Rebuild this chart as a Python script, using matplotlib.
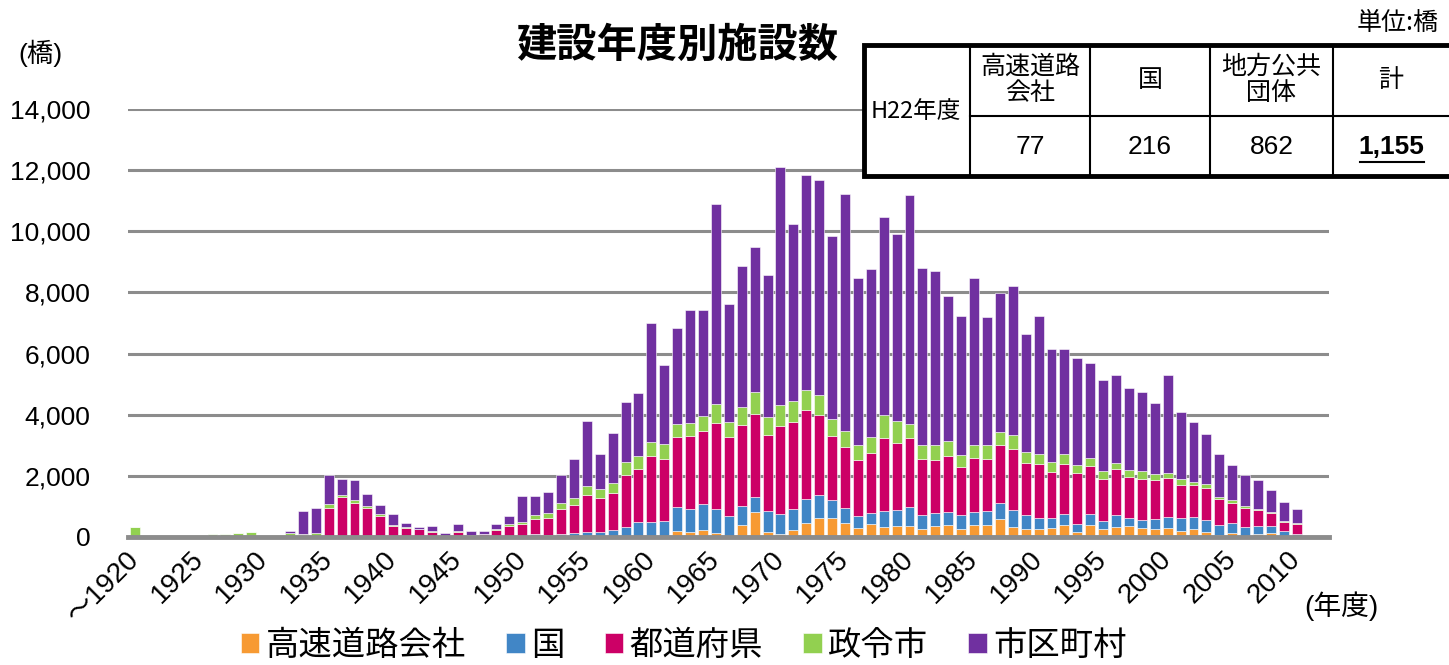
import numpy as np
import matplotlib.pyplot as plt
from matplotlib.patches import Rectangle

plt.rcParams['font.family'] = ['Liberation Sans', 'Noto Sans CJK JP']

# construction year (first bar = up to 1920)
years = list(range(1920, 2011))

# bridges by owner, per year
expressway = [0] * 40 + [
    0, 0, 195, 175, 230, 120, 0, 390, 815, 175,
    85, 220, 445, 630, 620, 470, 285, 415, 325, 360,
    360, 270, 370, 390, 270, 390, 390, 580, 340, 260,
    270, 285, 390, 165, 390, 260, 340, 360, 295, 250,
    285, 185, 260, 175, 55, 140, 20, 85, 120, 20,
    0]
national = [0] * 10 + [0, 0, 0, 30, 0, 0, 0, 0, 0, 0] + [0] * 10 + [
    30, 85, 65, 110, 120, 150, 175, 230, 340, 490,
    490, 525, 785, 730, 840, 785, 685, 620, 500, 675,
    665, 685, 795, 740, 590, 470, 390, 360, 520, 535,
    610, 445, 415, 425, 455, 425, 445, 520, 545, 455,
    350, 340, 350, 270, 350, 260, 370, 260, 260, 325,
    380, 425, 380, 370, 340, 325, 305, 260, 240, 165,
    85]
prefecture = [0] * 10 + [
    0, 0, 20, 20, 20, 960, 1310, 1110, 940, 690,
    350, 300, 250, 175, 20, 160, 80, 90, 220, 370,
    390, 510, 555, 805, 935, 1230, 1090, 1210, 1690, 1740,
    2155, 2035, 2300, 2385, 2395, 2830, 2590, 2645, 2720, 2495,
    2875, 2865, 2910, 2635, 2090, 2015, 1850, 1970, 2395, 2180,
    2255, 1850, 1740, 1820, 1580, 1765, 1700, 1905, 2005, 1700,
    1755, 1515, 1655, 1645, 1580, 1385, 1505, 1350, 1350, 1305,
    1250, 1100, 1055, 1055, 840, 655, 610, 525, 415, 305,
    340]
designated_city = [
    320, 0, 0, 0, 40, 50, 100, 100, 130, 150,
    40, 60, 120, 50, 100, 110, 50, 110, 75, 55,
    30, 40, 0, 30, 0, 30, 0, 0, 30, 50,
    85, 120, 150, 195, 205, 295, 305, 325, 425, 415,
    470, 470, 415, 435, 490, 620, 490, 590, 695, 590,
    685, 675, 655, 655, 555, 500, 490, 535, 760, 720,
    455, 455, 500, 500, 390, 445, 480, 425, 435, 380,
    325, 315, 305, 260, 260, 260, 195, 230, 250, 185,
    165, 185, 120, 130, 85, 85, 65, 30, 30, 45,
    30]
municipal = [0] * 10 + [
    0, 0, 60, 760, 820, 950, 530, 630, 400, 315,
    380, 130, 75, 160, 100, 230, 120, 110, 185, 260,
    820, 610, 690, 915, 1285, 2115, 1155, 1625, 1960, 2050,
    3900, 2605, 3135, 3690, 3485, 6535, 3865, 4630, 4770, 4650,
    7790, 5795, 7045, 7015, 6000, 7775, 5445, 5480, 6460, 6130,
    7515, 5770, 5685, 4760, 4550, 5445, 4170, 4550, 4880, 3855,
    4520, 3680, 3465, 3505, 3105, 2985, 2875, 2680, 2590, 2330,
    3225, 2200, 1960, 1655, 1405, 1135, 1015, 950, 720, 600,
    470]

series_names = ['高速道路会社', '国', '都道府県', '政令市', '市区町村']
series_colors = ['#F79A33', '#4186C6', '#CC0066', '#92D050', '#7030A0']

# H22 table
table_heads = ['高速道路\n会社', '国', '地方公共\n団体', '計']
table_values = ['77', '216', '862', '1,155']

fig = plt.figure(figsize=(14.49, 6.65), dpi=100)
ax = fig.add_axes([0.0883, 0.1925, 0.8289, 0.6436])

x = np.arange(len(years))
bottom = np.zeros(len(years))
for vals, name, col in zip([expressway, national, prefecture, designated_city, municipal],
                           series_names, series_colors):
    vals = np.array(vals, dtype=float)
    ax.bar(x, vals, width=0.77, bottom=bottom, color=col, label=name,
           edgecolor='white', linewidth=0.4, zorder=3)
    bottom += vals

ax.set_xlim(-0.55, 92.5)
ax.set_ylim(0, 14000)
ax.set_yticks(range(0, 14001, 2000))
ax.set_yticklabels([f'{v:,}' for v in range(0, 14001, 2000)], fontsize=19)
ax.yaxis.grid(True, color='#8c8c8c', linewidth=2.2, zorder=0)
for s in ['top', 'right', 'left']:
    ax.spines[s].set_visible(False)
ax.spines['bottom'].set_color('#8c8c8c')
ax.spines['bottom'].set_linewidth(3.5)
ax.spines['bottom'].set_zorder(4)
ax.tick_params(axis='y', length=0, pad=27)
ax.tick_params(axis='x', length=0, pad=4)

tick_idx = list(range(0, len(years), 5))
ax.set_xticks(tick_idx)
ax.set_xticklabels(['～1920' if years[i] == 1920 else str(years[i]) for i in tick_idx],
                   rotation=45, ha='right', va='center', rotation_mode='anchor', fontsize=20)
for lab in ax.get_xticklabels():
    lab.set_y(-0.03)

fig.text(0.467, 0.932, '建設年度別施設数', ha='center', va='center', fontsize=29,
         fontweight='bold', family='Noto Sans CJK JP')
fig.text(0.013, 0.92, '(橋)', ha='left', va='center', fontsize=19)
fig.text(0.993, 0.965, '単位:橋', ha='right', va='center', fontsize=18,
         family=['Noto Sans CJK JP'])
fig.text(0.9, 0.088, '(年度)', ha='left', va='center', fontsize=20)

leg = fig.legend(loc='center', bbox_to_anchor=(0.472, 0.03), ncol=5, frameon=False,
                 fontsize=24, handlelength=0.55, handleheight=0.55, handletextpad=0.2,
                 columnspacing=1.2, borderaxespad=0, borderpad=0)
for t in leg.get_texts():
    t.set_family('Noto Sans CJK JP')

# table in pixel coordinates
tax = fig.add_axes([862 / 1449, 1 - 178 / 665, 590 / 1449, 135 / 665])
tax.set_xlim(862, 1452)
tax.set_ylim(178, 43)
tax.axis('off')
tax.add_patch(Rectangle((864, 45), 600, 131, facecolor='white', edgecolor='black',
                        linewidth=3.5, zorder=2, clip_on=False))
col_edges = [970, 1090, 1210, 1333, 1460]
for cx in col_edges[:-1]:
    tax.plot([cx, cx], [45, 176], color='black', linewidth=1.5, zorder=3, clip_on=False)
tax.plot([970, 1460], [116, 116], color='black', linewidth=1.5, zorder=3, clip_on=False)
tax.text(916, 111, 'H22年度', ha='center', va='center', fontsize=17, family='Noto Sans CJK JP', zorder=4)
for i, (h, v) in enumerate(zip(table_heads, table_values)):
    cx = (col_edges[i] + col_edges[i + 1]) / 2 if i < 3 else 1391
    tax.text(cx, 80, h, ha='center', va='center', fontsize=18, linespacing=1.0,
             family='Noto Sans CJK JP', zorder=4)
    if i == 3:
        tax.text(cx, 147, v, ha='center', va='center', fontsize=19, fontweight='bold', zorder=4)
        tax.plot([1360, 1424], [162, 162], color='black', linewidth=1.5, zorder=4)
    else:
        tax.text(cx, 147, v, ha='center', va='center', fontsize=19, zorder=4)

fig.savefig('out.png', dpi=100)
